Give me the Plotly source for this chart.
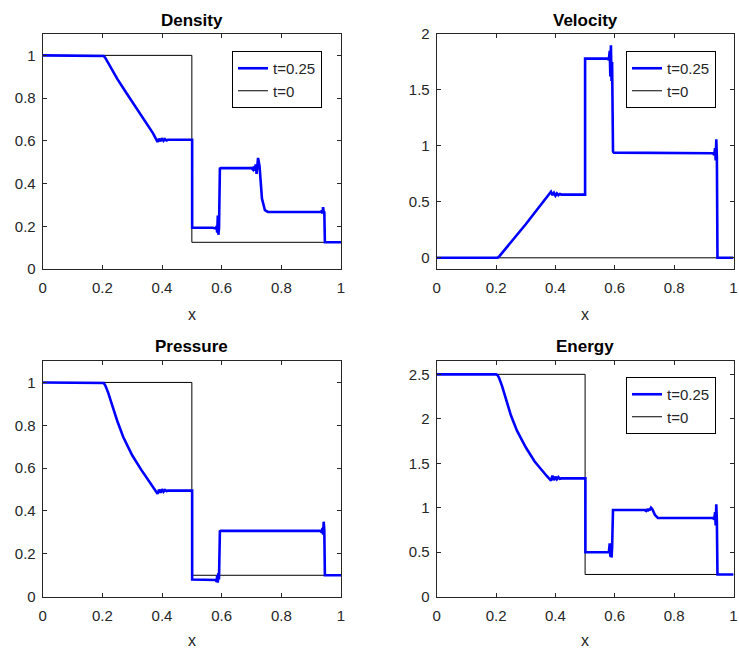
import plotly.graph_objects as go

# ---------------- data ----------------
x_ticks = [0, 0.2, 0.4, 0.6, 0.8, 1]
x_ticktext = ["0", "0.2", "0.4", "0.6", "0.8", "1"]

# initial condition t=0
x_init = [0, 0.5, 0.5, 1]
rho_init = [1, 1, 0.125, 0.125]
u_init = [0, 0, 0, 0]
p_init = [1, 1, 0.1, 0.1]
e_init = [2.5, 2.5, 0.25, 0.25]

# solution at t=0.25
x_rho = [0, 0.2, 0.205, 0.21, 0.22, 0.25, 0.28, 0.30, 0.33, 0.35, 0.37, 0.385, 0.39, 0.395, 0.40,
         0.405, 0.41, 0.415, 0.42,
         0.501, 0.501, 0.57, 0.58, 0.583, 0.585, 0.587, 0.589, 0.591, 0.594, 0.597,
         0.70, 0.705, 0.708, 0.711, 0.714, 0.717, 0.722, 0.727, 0.735, 0.745, 0.755,
         0.93, 0.935, 0.938, 0.940, 0.942, 0.944, 0.946, 1.0]
rho = [1, 1, 0.997, 0.988, 0.962, 0.89, 0.825, 0.782, 0.72, 0.678, 0.635, 0.595, 0.61, 0.598, 0.612,
       0.6, 0.608, 0.602, 0.605,
       0.605, 0.193, 0.193, 0.19, 0.2, 0.17, 0.25, 0.16, 0.19, 0.47, 0.472,
       0.472, 0.465, 0.48, 0.46, 0.49, 0.445, 0.52, 0.48, 0.33, 0.275, 0.267,
       0.267, 0.27, 0.26, 0.29, 0.265, 0.27, 0.125, 0.125]

x_u = [0, 0.2, 0.205, 0.21, 0.30, 0.385, 0.39, 0.395, 0.40, 0.405, 0.41, 0.415, 0.42,
       0.5, 0.5, 0.575, 0.58, 0.583, 0.585, 0.587, 0.589, 0.591, 0.594, 0.597,
       0.93, 0.935, 0.938, 0.940, 0.942, 0.944, 0.946, 1.0]
u = [0, 0, 0.002, 0.01, 0.3, 0.59, 0.56, 0.58, 0.555, 0.575, 0.56, 0.57, 0.565,
     0.565, 1.78, 1.78, 1.77, 1.85, 1.62, 1.9, 1.58, 1.75, 0.95, 0.94,
     0.935, 0.92, 0.98, 0.87, 1.06, 0.9, 0, 0]

x_p = [0, 0.2, 0.205, 0.21, 0.22, 0.235, 0.25, 0.27, 0.30, 0.33, 0.35, 0.37, 0.385, 0.39, 0.395,
       0.40, 0.405, 0.41, 0.415, 0.42,
       0.501, 0.501, 0.575, 0.58, 0.583, 0.585, 0.587, 0.589, 0.591, 0.594, 0.597,
       0.93, 0.935, 0.938, 0.940, 0.942, 0.944, 0.946, 1.0]
p = [1, 1, 0.997, 0.985, 0.95, 0.885, 0.82, 0.745, 0.66, 0.593, 0.553, 0.512, 0.48, 0.5, 0.485,
     0.502, 0.49, 0.498, 0.493, 0.495,
     0.495, 0.08, 0.078, 0.078, 0.07, 0.1, 0.065, 0.11, 0.08, 0.305, 0.307,
     0.307, 0.3, 0.32, 0.29, 0.35, 0.31, 0.1, 0.1]

x_e = [0, 0.2, 0.205, 0.21, 0.22, 0.235, 0.25, 0.27, 0.30, 0.33, 0.35, 0.37, 0.385, 0.39, 0.395,
       0.40, 0.405, 0.41, 0.415, 0.42,
       0.501, 0.501, 0.575, 0.58, 0.583, 0.585, 0.587, 0.589, 0.591, 0.594, 0.597,
       0.70, 0.705, 0.708, 0.711, 0.714, 0.717, 0.722, 0.727, 0.735, 0.745,
       0.93, 0.935, 0.938, 0.940, 0.942, 0.944, 0.946, 1.0]
e = [2.5, 2.5, 2.49, 2.46, 2.37, 2.2, 2.04, 1.87, 1.68, 1.52, 1.435, 1.36, 1.305, 1.36, 1.31,
     1.35, 1.32, 1.345, 1.325, 1.33,
     1.33, 0.5, 0.5, 0.5, 0.6, 0.45, 0.6, 0.44, 0.55, 0.975, 0.975,
     0.975, 0.965, 0.985, 0.96, 0.99, 0.97, 1.0, 0.98, 0.92, 0.885,
     0.885, 0.87, 0.95, 0.8, 1.04, 0.85, 0.25, 0.25]

titles = ["Density", "Velocity", "Pressure", "Energy"]
series_x = [x_rho, x_u, x_p, x_e]
series_y = [rho, u, p, e]
init_y = [rho_init, u_init, p_init, e_init]
y_ranges = [[0, 1.1], [-0.1, 2], [0, 1.1], [0, 2.65]]
y_ticks = [[0, 0.2, 0.4, 0.6, 0.8, 1], [0, 0.5, 1, 1.5, 2],
           [0, 0.2, 0.4, 0.6, 0.8, 1], [0, 0.5, 1, 1.5, 2, 2.5]]
y_ticktext = [["0", "0.2", "0.4", "0.6", "0.8", "1"], ["0", "0.5", "1", "1.5", "2"],
              ["0", "0.2", "0.4", "0.6", "0.8", "1"], ["0", "0.5", "1", "1.5", "2", "2.5"]]
legend_names = ["legend", "legend2", None, "legend3"]

# ---------------- layout ----------------
W, H = 739, 653
FONT = "Liberation Sans, Arial, sans-serif"
AX = "#262626"


def px(x):
    return x / W


def py(y):
    return 1 - y / H


x_domains = [[px(42.7), px(341)], [px(436.7), px(733.5)]]
y_domains = [[py(269), py(34)], [py(596.7), py(361)]]
title_y = [py(20), py(346)]
xlabel_y = [py(314), py(640)]

fig = go.Figure()
layout = dict(width=W, height=H, margin=dict(l=0, r=0, t=0, b=0, autoexpand=False),
              paper_bgcolor="white", plot_bgcolor="white", annotations=[])

for i in range(4):
    r, c = divmod(i, 2)
    xa = "x" if i == 0 else f"x{i+1}"
    ya = "y" if i == 0 else f"y{i+1}"
    leg = legend_names[i]
    fig.add_trace(go.Scatter(x=x_init, y=init_y[i], mode="lines", name="t=0",
                             line=dict(color="black", width=1),
                             xaxis=xa, yaxis=ya, legend=leg or "legend",
                             showlegend=leg is not None, legendrank=2))
    fig.add_trace(go.Scatter(x=series_x[i], y=series_y[i], mode="lines", name="t=0.25",
                             line=dict(color="#0000FF", width=2.6),
                             xaxis=xa, yaxis=ya, legend=leg or "legend",
                             showlegend=leg is not None, legendrank=1))
    axcommon = dict(showline=True, linecolor=AX, linewidth=1, mirror="ticks",
                    ticks="inside", ticklen=4, tickcolor=AX, tickwidth=1,
                    showgrid=False, zeroline=False, automargin=False,
                    ticklabeloverflow="allow",
                    tickfont=dict(family=FONT, size=15, color=AX))
    layout["xaxis" if i == 0 else f"xaxis{i+1}"] = dict(
        axcommon, domain=x_domains[c], range=[0, 1], anchor=ya,
        tickvals=x_ticks, ticktext=x_ticktext, ticklabelstandoff=5)
    layout["yaxis" if i == 0 else f"yaxis{i+1}"] = dict(
        axcommon, domain=y_domains[r], range=y_ranges[i], anchor=xa,
        tickvals=y_ticks[i], ticktext=y_ticktext[i], ticklabelstandoff=3)
    xc = (x_domains[c][0] + x_domains[c][1]) / 2
    layout["annotations"].append(dict(
        text=f"<b>{titles[i]}</b>", x=xc, y=title_y[r], xref="paper", yref="paper",
        xanchor="center", yanchor="middle", showarrow=False,
        font=dict(family=FONT, size=17, color="black")))
    layout["annotations"].append(dict(
        text="x", x=xc, y=xlabel_y[r], xref="paper", yref="paper",
        xanchor="center", yanchor="middle", showarrow=False,
        font=dict(family=FONT, size=16, color=AX)))

legstyle = dict(bgcolor="white", bordercolor="black", borderwidth=1,
                font=dict(family=FONT, size=15, color=AX),
                xanchor="left", yanchor="top", tracegroupgap=0, itemwidth=30)
layout["legend"] = dict(legstyle, x=px(232), y=py(51))
layout["legend2"] = dict(legstyle, x=px(626), y=py(51))
layout["legend3"] = dict(legstyle, x=px(626), y=py(377))

fig.update_layout(**layout)
fig.write_html("out.html", config={"displayModeBar": False},
               post_script="document.body.style.margin='0';document.body.style.overflow='hidden';")
